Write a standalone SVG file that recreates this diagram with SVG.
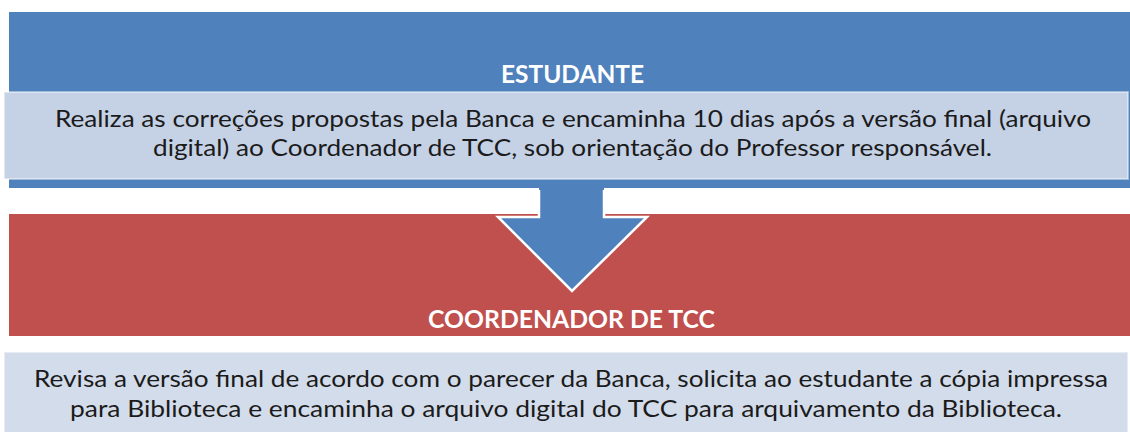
<svg xmlns="http://www.w3.org/2000/svg" width="1130" height="432" viewBox="0 0 1130 432">
<style>
.body{font-family:Lato,"Open Sans","Liberation Sans",sans-serif;font-size:22.5px;fill:#1b1b1b}
.title{font-family:Lato,"Open Sans","Liberation Sans",sans-serif;font-size:24px;font-weight:bold;fill:#ffffff}
.light{stroke:#ffffff;stroke-opacity:0.45;stroke-width:2}
</style>
<rect x="0" y="0" width="1130" height="432" fill="#ffffff"/>
<g id="estudante">
<rect x="9" y="12" width="1125" height="176" fill="#4F81BD"/>
<text class="title" x="501" y="83" textLength="143" lengthAdjust="spacingAndGlyphs">ESTUDANTE</text>
</g>
<g id="coordenador">
<rect x="9" y="214" width="1125" height="122" fill="#C0504D"/>
</g>
<g id="connectors">
<path d="M539,176 L539,217 L498,217 L572,291 L647,217 L604,217 L604,176 Z" fill="#4F81BD"/>
<path d="M539,190 L539,217 L498,217 L572,291 L647,217 L604,217 L604,190" fill="none" stroke="#ffffff" stroke-width="2.5" stroke-linejoin="miter"/>
</g>
<g id="coordenador-label">
<text class="title" x="428" y="328" textLength="287" lengthAdjust="spacingAndGlyphs">COORDENADOR DE TCC</text>
</g>
<g id="estudante-desc">
<rect class="light" x="4" y="92" width="1124" height="87" fill="#C5D1E5"/>
<text class="body" x="55" y="126.5" textLength="1036" lengthAdjust="spacingAndGlyphs">Realiza as correções propostas pela Banca e encaminha 10 dias após a versão final (arquivo</text>
<text class="body" x="153" y="155.5" textLength="839" lengthAdjust="spacingAndGlyphs">digital) ao Coordenador de TCC, sob orientação do Professor responsável.</text>
</g>
<g id="coordenador-desc">
<rect class="light" x="4" y="352" width="1124" height="90" fill="#D3DCEA"/>
<text class="body" x="34" y="387.3" textLength="1074" lengthAdjust="spacingAndGlyphs">Revisa a versão final de acordo com o parecer da Banca, solicita ao estudante a cópia impressa</text>
<text class="body" x="70" y="416.7" textLength="992" lengthAdjust="spacingAndGlyphs">para Biblioteca e encaminha o arquivo digital do TCC para arquivamento da Biblioteca.</text>
</g>
</svg>
